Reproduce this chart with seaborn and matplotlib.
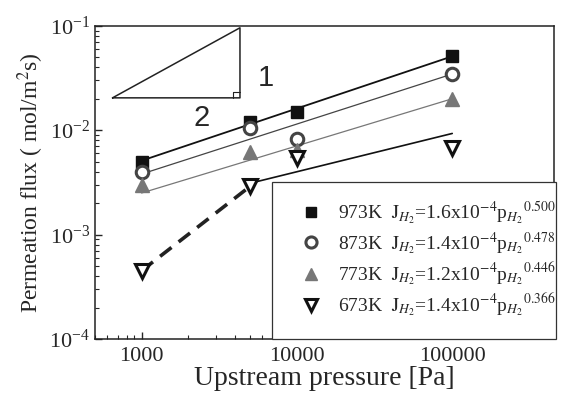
import numpy as np
import pandas as pd
import matplotlib
matplotlib.use("Agg")
import matplotlib.pyplot as plt
import seaborn as sns
from matplotlib.lines import Line2D
from matplotlib.patches import Rectangle

# measured points
pressure = [1000, 5000, 10000, 100000]
flux_973 = [5.0e-3, 1.2e-2, 1.5e-2, 5.1e-2]
flux_873 = [4.0e-3, 1.05e-2, 8.3e-3, 3.45e-2]
flux_773 = [3.0e-3, 6.2e-3, 6.4e-3, 2.0e-2]
flux_673 = [4.5e-4, 2.9e-3, 5.4e-3, 6.8e-3]

# fitted lines (end points)
fit_p = {"973K": [1000, 100000], "873K": [1000, 100000],
         "773K": [1000, 100000], "673K": [5000, 100000]}
fit_j = {"973K": [5.1e-3, 5.1e-2], "873K": [3.8e-3, 3.45e-2],
         "773K": [2.5e-3, 2.0e-2], "673K": [3.1e-3, 9.3e-3]}

# dashed segment at 673K
dash_p = [1000, 5000]
dash_j = [4.5e-4, 2.9e-3]

labels = ["973K", "873K", "773K", "673K"]
coef = ["1.6", "1.4", "1.2", "1.4"]
expo = ["0.500", "0.478", "0.446", "0.366"]

sns.set_theme(style="ticks")
plt.rcParams["font.family"] = ["Liberation Serif", "DejaVu Serif"]
plt.rcParams["mathtext.fontset"] = "stix"
plt.rcParams["xtick.direction"] = "in"
plt.rcParams["ytick.direction"] = "in"

df = pd.DataFrame({
    "p": pressure * 4,
    "J": flux_973 + flux_873 + flux_773 + flux_673,
    "T": [l for l in labels for _ in pressure],
})

fig = plt.figure(figsize=(5.61, 4.03), dpi=100)
ax = fig.add_axes([0.169, 0.159, 0.818, 0.777])

styles = {
    "973K": dict(marker="s", color="#111111", mfc="#111111", lw=1.3, ms=8),
    "873K": dict(marker="o", color="#444444", mfc="white", lw=0.9, ms=9),
    "773K": dict(marker="^", color="#777777", mfc="#777777", lw=0.9, ms=10),
    "673K": dict(marker="v", color="#111111", mfc="white", lw=1.2, ms=10),
}

for lab in labels:
    st = styles[lab]
    line_df = pd.DataFrame({"p": fit_p[lab], "J": fit_j[lab]})
    sns.lineplot(data=line_df, x="p", y="J", ax=ax, color=st["color"],
                 lw=st["lw"], legend=False)

sns.lineplot(x=dash_p, y=dash_j, ax=ax, color="#222222", lw=2.6,
             dashes=[(4, 2.5)], style=[0, 0], legend=False)

for lab in labels:
    st = styles[lab]
    sub = df[df["T"] == lab]
    ax.plot(sub["p"], sub["J"], ls="none", marker=st["marker"], ms=st["ms"],
            mfc=st["mfc"], mec=st["color"], mew=2.2 if st["mfc"] == "white" else 1,
            zorder=5)

ax.set_xscale("log")
ax.set_yscale("log")
ax.set_xlim(500, 450000)
ax.set_ylim(1e-4, 1e-1)
ax.set_xticks([1000, 10000, 100000])
ax.set_xticklabels(["1000", "10000", "100000"])
ax.tick_params(axis="both", which="major", labelsize=16, length=5, width=1, top=False, right=False)
ax.tick_params(axis="x", which="major", pad=6)
ax.tick_params(axis="both", which="minor", length=3, width=0.8, top=False, right=False)
for s in ax.spines.values():
    s.set_linewidth(1.1)
    s.set_color("#222222")

ax.set_xlabel("Upstream pressure [Pa]", fontsize=20, labelpad=0)
ax.set_ylabel("Permeation flux ( mol/m$^2$s)", fontsize=17, labelpad=2)

# slope triangle
tri_x = [650, 4300, 4300, 650]
tri_y = [0.0204, 0.0204, 0.0957, 0.0204]
ax.plot(tri_x, tri_y, color="#222222", lw=1.1)
ax.plot([3850, 3850, 4300], [0.0204, 0.0233, 0.0233], color="#222222", lw=0.8)
ax.text(6270, 0.0317, "1", family="Liberation Sans", fontsize=21, ha="center", va="center")
ax.text(2430, 0.0131, "2", family="Liberation Sans", fontsize=21, ha="center", va="center")

# legend box
ax.add_patch(Rectangle((0.386, 0.0), 0.618, 0.50, transform=ax.transAxes,
                       fill=True, fc="white", ec="#333333", lw=0.9,
                       clip_on=False, zorder=6))
handles = []
texts = []
for lab, c, e in zip(labels, coef, expo):
    st = styles[lab]
    handles.append(Line2D([], [], ls="none", marker=st["marker"], ms=st["ms"] - 1,
                          mfc=st["mfc"], mec=st["color"],
                          mew=2.2 if st["mfc"] == "white" else 1))
    texts.append(lab + r"  $\mathrm{J}_{H_2}$=" + c + r"x10$^{-4}$p$_{H_2}$$^{" + e + "}$")
leg = ax.legend(handles, texts, loc="center", bbox_to_anchor=(0.725, 0.255),
                frameon=False, fontsize=14, labelspacing=0.2,
                handletextpad=0.8, handlelength=1.2)
leg.set_zorder(7)

fig.savefig("out.png", dpi=100)
